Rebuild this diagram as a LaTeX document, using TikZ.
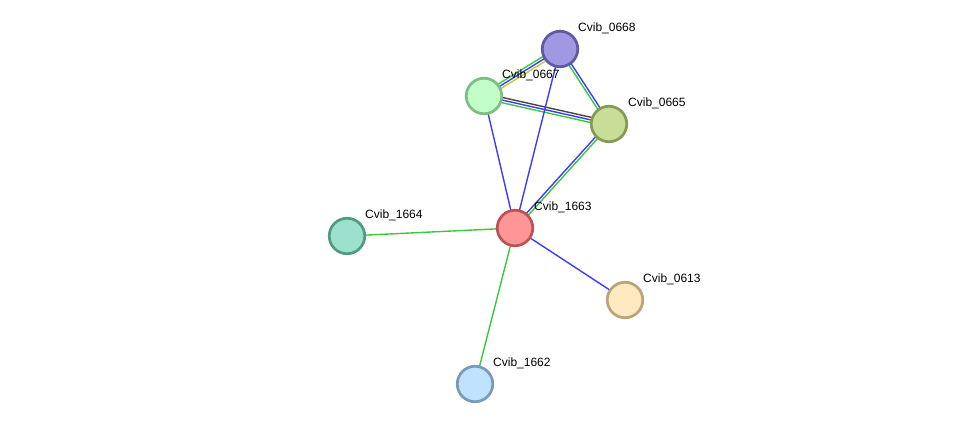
\documentclass[tikz,border=0pt]{standalone}
\usepackage{fontspec}
\setmainfont{Liberation Sans}
\usepackage{tikz}
\usetikzlibrary{calc,backgrounds}
\definecolor{ebl}{RGB}{60,60,250}
\definecolor{egr}{RGB}{60,200,60}
\definecolor{eye}{RGB}{200,200,60}
\definecolor{edk}{RGB}{70,70,70}
\tikzset{
  prot/.style={circle, draw, line width=2.7pt, minimum size=35.5pt, inner sep=0pt},
  lbl/.style={anchor=west, font=\fontsize{12}{14}\selectfont, inner sep=0pt},
  edge/.style={line width=1.4pt},
}
% parallel strand between two nodes, offset to one side
\newcommand{\strand}[4]{\draw[edge,#1] ($(#2.center)!#4!90:(#3.center)$) -- ($(#3.center)!#4!-90:(#2.center)$);}

\begin{document}
\begin{tikzpicture}[x=1pt,y=-1pt]
\useasboundingbox (0,0) rectangle (976,430);
\node[prot, fill={rgb,255:red,160;green,152;blue,226}, draw={rgb,255:red,95;green,90;blue,165}] (n668) at (560,49) {};
\node[prot, fill={rgb,255:red,194;green,255;blue,200}, draw={rgb,255:red,125;green,190;blue,135}] (n667) at (484,96) {};
\node[prot, fill={rgb,255:red,200;green,222;blue,152}, draw={rgb,255:red,130;green,155;blue,85}] (n665) at (609,124) {};
\node[prot, fill={rgb,255:red,255;green,150;blue,150}, draw={rgb,255:red,190;green,82;blue,82}] (n1663) at (515,228) {};
\node[prot, fill={rgb,255:red,155;green,225;blue,205}, draw={rgb,255:red,80;green,155;blue,130}] (n1664) at (347,236) {};
\node[prot, fill={rgb,255:red,255;green,233;blue,194}, draw={rgb,255:red,185;green,165;blue,120}] (n613) at (625,300) {};
\node[prot, fill={rgb,255:red,192;green,226;blue,255}, draw={rgb,255:red,120;green,155;blue,185}] (n1662) at (475,384) {};

\node[lbl] (t668) at ([shift={(18,-21)}]n668.center) {Cvib\_0668};
\node[lbl] (t667) at ([shift={(18,-21)}]n667.center) {Cvib\_0667};
\node[lbl] (t665) at ([shift={(19,-21)}]n665.center) {Cvib\_0665};
\node[lbl] (t1663) at ([shift={(19,-21)}]n1663.center) {Cvib\_1663};
\node[lbl] (t1664) at ([shift={(18,-21)}]n1664.center) {Cvib\_1664};
\node[lbl] (t613) at ([shift={(18,-21)}]n613.center) {Cvib\_0613};
\node[lbl] (t1662) at ([shift={(18,-21)}]n1662.center) {Cvib\_1662};

\begin{pgfonlayer}{background}
\strand{egr}{n667}{n668}{2.6pt}
\strand{ebl}{n667}{n668}{0pt}
\strand{eye}{n667}{n668}{-2.6pt}
\strand{edk}{n667}{n665}{2.6pt}
\strand{ebl}{n667}{n665}{0pt}
\strand{egr}{n667}{n665}{-2.6pt}
\strand{egr}{n668}{n665}{-1.3pt}
\strand{ebl}{n668}{n665}{1.3pt}
\strand{ebl}{n1663}{n665}{1.3pt}
\strand{egr}{n1663}{n665}{-1.3pt}
\draw[edge,ebl] (n1663.center) -- (n667.center);
\draw[edge,ebl] (n1663.center) -- (n668.center);
\draw[edge,egr] (n1663.center) -- (n1664.center);
\draw[edge,egr] (n1663.center) -- (n1662.center);
\draw[edge,ebl] (n1663.center) -- (n613.center);
\end{pgfonlayer}
\end{tikzpicture}
\end{document}
